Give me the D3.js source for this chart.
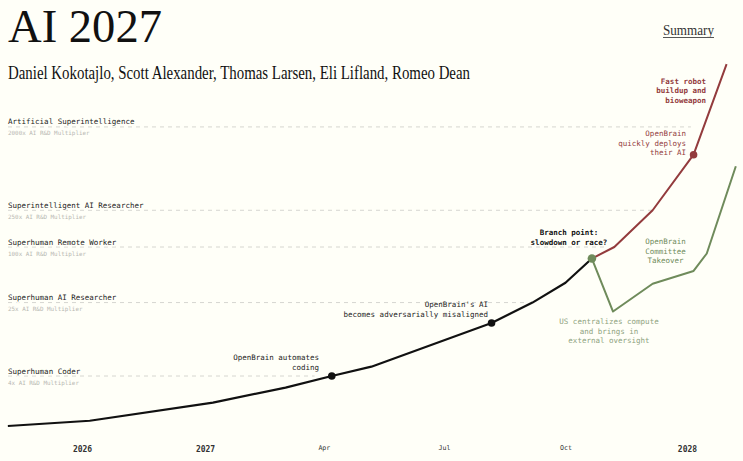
<!DOCTYPE html>
<html>
<head>
<meta charset="utf-8">
<script src="https://cdn.jsdelivr.net/npm/d3@7"></script>
<style>
  html, body { margin: 0; padding: 0; background: #fffff8; }
  svg { display: block; }
  .mono { font-family: "DejaVu Sans Mono", "Liberation Mono", monospace; }
  .serif { font-family: "Liberation Serif", "DejaVu Serif", serif; }
</style>
</head>
<body>
<div id="chart"></div>
<script>
// main trajectory up to the branch point
const mainDates = ["2025-05-26","2026-01-24","2027-01-07","2027-03-03","2027-04-07","2027-05-07","2027-08-06","2027-09-06","2027-10-01","2027-10-21"];
const mainMult  = [1.15, 1.31, 2.06, 3.0, 4.0, 5.05, 15, 25, 41, 75];

// race ending
const raceDates = ["2027-10-21","2027-11-07","2027-12-06","2028-01-06","2028-01-31"];
const raceMult  = [75, 100, 250, 1000, 9600];

// slowdown ending
const slowDates = ["2027-10-21","2027-11-06","2027-12-06","2028-01-06","2028-01-16","2028-02-07"];
const slowMult  = [75, 20, 40, 55, 85, 750];

// milestones (horizontal dashed levels)
const milestoneNames = ["Artificial Superintelligence","Superintelligent AI Researcher","Superhuman Remote Worker","Superhuman AI Researcher","Superhuman Coder"];
const milestoneSubs  = ["2000x AI R&D Multiplier","250x AI R&D Multiplier","100x AI R&D Multiplier","25x AI R&D Multiplier","4x AI R&D Multiplier"];
const milestoneMult  = [2000, 250, 100, 25, 4];
const milestoneEnds  = ["2028-01-04","2027-12-06","2027-10-31","2027-08-31","2027-03-25"];

// x axis ticks
const tickDates  = ["2026-01-01","2027-01-01","2027-04-01","2027-07-01","2027-10-01","2028-01-01"];
const tickLabels = ["2026","2027","Apr","Jul","Oct","2028"];

const W = 743, H = 461;
const bg = "#fffff8";
const red = "#933b3d", green = "#6f8b5b", greenLight = "#8ea27e";
const parse = d3.timeParse("%Y-%m-%d");

const svg = d3.select("#chart").append("svg")
  .attr("width", W).attr("height", H)
  .style("background", bg);

// compressed before 2027, expanded after
const x = d3.scaleTime()
  .domain([parse("2025-01-01"), parse("2026-01-01"), parse("2027-01-01"), parse("2028-03-01")])
  .range([-41, 82, 205, 766.2]);

const y = d3.scaleLog()
  .domain([1, 10000])
  .range([431.6, 62.4]);

// header
svg.append("text").attr("class","serif")
  .attr("x", 8).attr("y", 42)
  .attr("font-size", 46).attr("fill", "#111")
  .attr("textLength", 154).attr("lengthAdjust", "spacingAndGlyphs")
  .text("AI 2027");
svg.append("text").attr("class","serif")
  .attr("x", 8).attr("y", 79)
  .attr("font-size", 18).attr("fill", "#111")
  .attr("textLength", 462).attr("lengthAdjust", "spacingAndGlyphs")
  .text("Daniel Kokotajlo, Scott Alexander, Thomas Larsen, Eli Lifland, Romeo Dean");
svg.append("text").attr("class","serif")
  .attr("x", 663).attr("y", 35)
  .attr("font-size", 14).attr("fill", "#333")
  .attr("textLength", 51).attr("lengthAdjust", "spacingAndGlyphs")
  .text("Summary");
svg.append("line")
  .attr("x1", 663).attr("x2", 714).attr("y1", 37.5).attr("y2", 37.5)
  .attr("stroke", "#555").attr("stroke-width", 1.2);

// milestone levels
const ms = svg.append("g").attr("id","milestones")
  .selectAll("g")
  .data(milestoneMult)
  .enter().append("g");

ms.append("line")
  .attr("x1", 8)
  .attr("x2", (d,i) => x(parse(milestoneEnds[i])))
  .attr("y1", d => y(d)).attr("y2", d => y(d))
  .attr("stroke", "#d6d6d0").attr("stroke-width", 1)
  .attr("stroke-dasharray", "4,4");

ms.append("text").attr("class","mono")
  .attr("x", 8).attr("y", d => y(d) - 2.5)
  .attr("font-size", 7.5).attr("fill", "#222")
  .attr("stroke", bg).attr("stroke-width", 2.5).attr("paint-order", "stroke")
  .text((d,i) => milestoneNames[i]);

ms.append("text").attr("class","mono")
  .attr("x", 8).attr("y", d => y(d) + 8.5)
  .attr("font-size", 5.9).attr("fill", "#b8b8b2")
  .text((d,i) => milestoneSubs[i]);

// x axis
const xAxis = d3.axisBottom(x)
  .tickValues(tickDates.map(parse))
  .tickFormat((d,i) => tickLabels[i])
  .tickSize(0);

const gx = svg.append("g")
  .attr("transform", "translate(0,443)")
  .call(xAxis);
gx.select(".domain").remove();
gx.selectAll("text")
  .attr("class","mono")
  .attr("fill", "#333")
  .attr("font-family", "DejaVu Sans Mono, monospace")
  .attr("font-size", (d,i) => tickLabels[i].length === 4 ? 8 : 6.6)
  .attr("font-weight", (d,i) => tickLabels[i].length === 4 ? "bold" : "normal")
  .attr("dy", (d,i) => tickLabels[i].length === 4 ? "0.71em" : "0.6em");

// trajectories
const line = d3.line()
  .x(d => x(d[0]))
  .y(d => y(d[1]));

const zip = (ds, vs) => ds.map((d,i) => [parse(d), vs[i]]);

svg.append("path")
  .datum(zip(slowDates, slowMult))
  .attr("d", line).attr("fill","none")
  .attr("stroke", green).attr("stroke-width", 2).attr("stroke-linejoin","round");

svg.append("path")
  .datum(zip(raceDates, raceMult))
  .attr("d", line).attr("fill","none")
  .attr("stroke", red).attr("stroke-width", 2).attr("stroke-linejoin","round");

svg.append("path")
  .datum(zip(mainDates, mainMult))
  .attr("d", line).attr("fill","none")
  .attr("stroke", "#111").attr("stroke-width", 2.2).attr("stroke-linejoin","round");

// dots
const dots = [
  [mainDates[4], mainMult[4], "#111", 3.8],
  [mainDates[6], mainMult[6], "#111", 3.8],
  [raceDates[3], raceMult[3], red, 3.8],
  [mainDates[9], mainMult[9], green, 4.3]
];
svg.append("g").selectAll("circle")
  .data(dots)
  .enter().append("circle")
  .attr("cx", d => x(parse(d[0])))
  .attr("cy", d => y(d[1]))
  .attr("r", d => d[3])
  .attr("fill", d => d[2]);

// annotations
function note(lines, px, py, anchor, color, weight) {
  const t = svg.append("text").attr("class","mono")
    .attr("font-size", 7.5).attr("fill", color)
    .attr("font-weight", weight || "normal")
    .attr("text-anchor", anchor);
  lines.forEach((s, i) => {
    t.append("tspan").attr("x", px).attr("y", py + i * 9.6).text(s);
  });
}

note(["OpenBrain automates", "coding"], 319, 360, "end", "#222");
note(["OpenBrain's AI", "becomes adversarially misaligned"], 488, 307, "end", "#222");
note(["Branch point:", "slowdown or race?"], 569, 235, "middle", "#111", "bold");
note(["OpenBrain", "quickly deploys", "their AI"], 686, 136, "end", red);
note(["Fast robot", "buildup and", "bioweapon"], 706, 83.5, "end", red, "bold");
note(["OpenBrain", "Committee", "Takeover"], 665.5, 244, "middle", green);
note(["US centralizes compute", "and brings in", "external oversight"], 609, 324, "middle", greenLight);
</script>
</body>
</html>
